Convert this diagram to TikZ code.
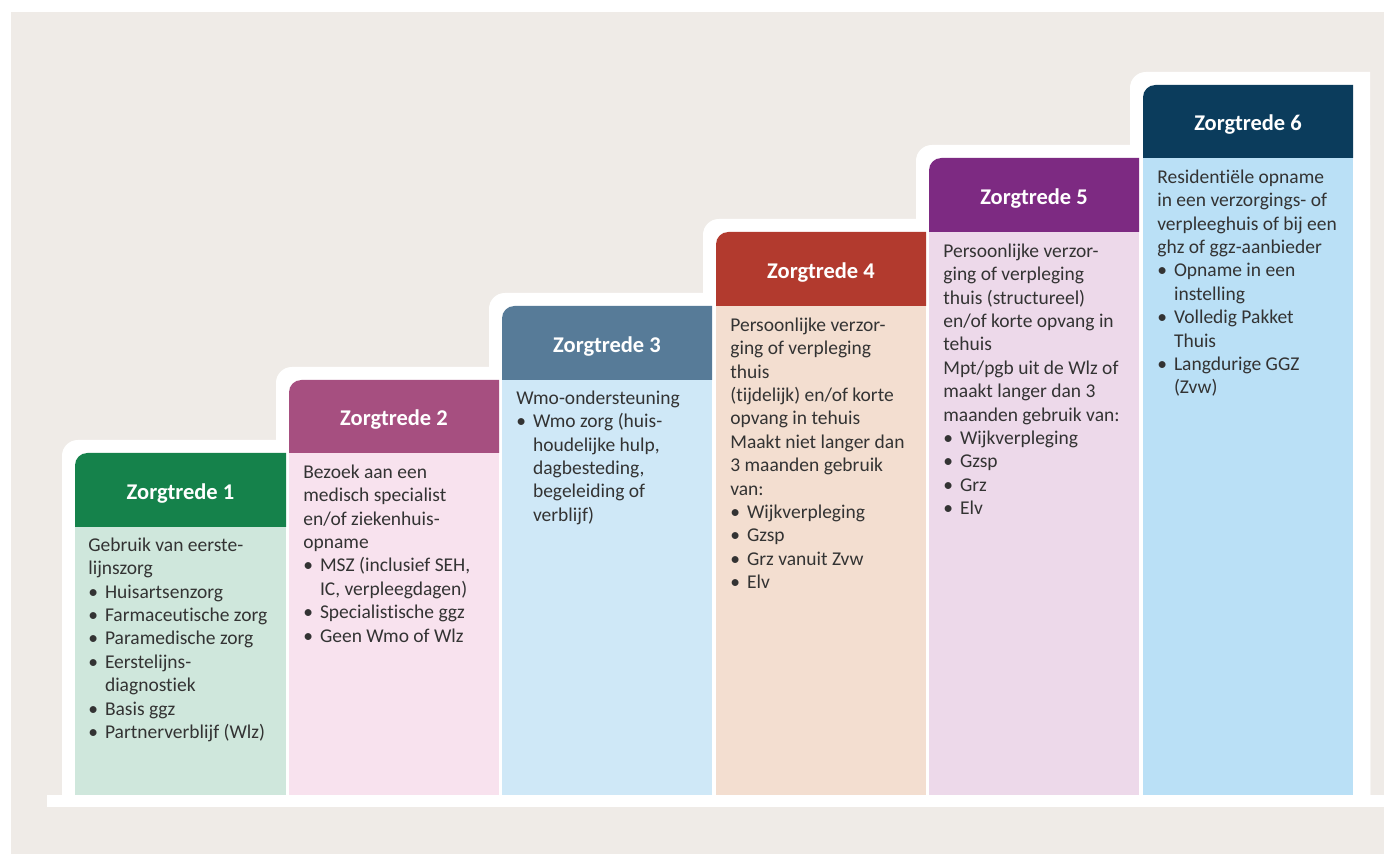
\documentclass[tikz,border=0pt]{standalone}
\usepackage{fontspec}
\setmainfont{Carlito}[Ligatures=NoCommon]
\usepackage{xcolor}
\usepackage{tikz}
\usetikzlibrary{positioning}

\definecolor{sfondo}{HTML}{EFEBE7}
\definecolor{verde}{HTML}{15824B}
\definecolor{verdechiaro}{HTML}{CFE7DC}
\definecolor{rosa}{HTML}{A64F80}
\definecolor{rosachiaro}{HTML}{F8E2EE}
\definecolor{grigioblu}{HTML}{577B98}
\definecolor{azzurrochiaro}{HTML}{CFE8F7}
\definecolor{rosso}{HTML}{B23A2E}
\definecolor{pesca}{HTML}{F3DED0}
\definecolor{viola}{HTML}{7D2A82}
\definecolor{lilla}{HTML}{EDD9EA}
\definecolor{blunotte}{HTML}{0B3C5C}
\definecolor{celeste}{HTML}{BAE0F6}
\definecolor{testogrigio}{HTML}{333333}

\newcommand{\punto}{\makebox[9.5pt][l]{\textbullet}}
\newcommand{\rientro}{\hspace*{9.5pt}}

\begin{document}
\begin{tikzpicture}[x=0.02cm,y=-0.02cm]

% Stili per titoli e testi
\tikzset{
  titolo/.style={anchor=base, inner sep=0pt, text=white, font=\bfseries\fontsize{12.8}{14}\selectfont},
  testo/.style={anchor=north west, inner sep=0pt, align=left, text=testogrigio,
    font=\fontsize{11.1}{13.3}\selectfont, execute at begin node=\strut}
}

\useasboundingbox (0,0) rectangle (1384,854);
\fill[white] (0,0) rectangle (1384,854);
\fill[sfondo] (11,12) rectangle (1384,854);

% --- Gradini bianchi sullo sfondo ---
\fill[white] (62,807) [rounded corners=9pt] -- (62,440) [sharp corners] -- (1370,440) -- (1370,807) -- cycle;
\fill[white] (276,807) [rounded corners=9pt] -- (276,367) [sharp corners] -- (1370,367) -- (1370,807) -- cycle;
\fill[white] (489,807) [rounded corners=9pt] -- (489,293) [sharp corners] -- (1370,293) -- (1370,807) -- cycle;
\fill[white] (703,807) [rounded corners=9pt] -- (703,219) [sharp corners] -- (1370,219) -- (1370,807) -- cycle;
\fill[white] (916,807) [rounded corners=9pt] -- (916,145) [sharp corners] -- (1370,145) -- (1370,807) -- cycle;
\fill[white] (1130,807) [rounded corners=9pt] -- (1130,72) [sharp corners] -- (1370,72) -- (1370,807) -- cycle;
\fill[white] (47,795) rectangle (1384,807);

% --- Zorgtrede 1 ---
\fill[verde] (75,527) [rounded corners=7pt] -- (75,453) [sharp corners] -- (286,453) -- (286,527) -- cycle;
\fill[verdechiaro] (75,527) rectangle (286,795);
\node[titolo] (z1) at (180.5,500) {Zorgtrede 1};
\node[testo] (t1) at (88,537.6) {Gebruik van eerste-\\lijnszorg\\
  \punto Huisartsenzorg\\\punto Farmaceutische zorg\\\punto Paramedische zorg\\
  \punto Eerstelijns-\\\rientro diagnostiek\\\punto Basis ggz\\\punto Partnerverblijf (Wlz)};

% --- Zorgtrede 2 ---
\fill[rosa] (289,453) [rounded corners=7pt] -- (289,380) [sharp corners] -- (499,380) -- (499,453) -- cycle;
\fill[rosachiaro] (289,453) rectangle (499,795);
\node[titolo] (z2) at (394,426) {Zorgtrede 2};
\node[testo] (t2) at (303,464.6) {Bezoek aan een\\medisch specialist\\en/of ziekenhuis-\\opname\\
  \punto MSZ (inclusief SEH,\\\rientro IC, verpleegdagen)\\\punto Specialistische ggz\\\punto Geen Wmo of Wlz};

% --- Zorgtrede 3 ---
\fill[grigioblu] (502,380) [rounded corners=7pt] -- (502,306) [sharp corners] -- (712,306) -- (712,380) -- cycle;
\fill[azzurrochiaro] (502,380) rectangle (712,795);
\node[titolo] (z3) at (607,353) {Zorgtrede 3};
\node[testo] (t3) at (516,390.6) {Wmo-ondersteuning\\\punto Wmo zorg (huis-\\\rientro houdelijke hulp,\\
  \rientro dagbesteding,\\\rientro begeleiding of\\\rientro verblijf)};

% --- Zorgtrede 4 ---
\fill[rosso] (716,306) [rounded corners=7pt] -- (716,232) [sharp corners] -- (926,232) -- (926,306) -- cycle;
\fill[pesca] (716,306) rectangle (926,795);
\node[titolo] (z4) at (821,279) {Zorgtrede 4};
\node[testo] (t4) at (730,317.6) {Persoonlijke verzor-\\ging of verpleging\\thuis\\(tijdelijk) en/of korte\\
  opvang in tehuis\\Maakt niet langer dan\\3 maanden gebruik\\van:\\
  \punto Wijkverpleging\\\punto Gzsp\\\punto Grz vanuit Zvw\\\punto Elv};

% --- Zorgtrede 5 ---
\fill[viola] (929,232) [rounded corners=7pt] -- (929,158) [sharp corners] -- (1139,158) -- (1139,232) -- cycle;
\fill[lilla] (929,232) rectangle (1139,795);
\node[titolo] (z5) at (1034,205) {Zorgtrede 5};
\node[testo] (t5) at (943,243.6) {Persoonlijke verzor-\\ging of verpleging\\thuis (structureel)\\
  en/of korte opvang in\\tehuis\\Mpt/pgb uit de Wlz of\\maakt langer dan 3\\maanden gebruik van:\\
  \punto Wijkverpleging\\\punto Gzsp\\\punto Grz\\\punto Elv};

% --- Zorgtrede 6 ---
\fill[blunotte] (1143,158) [rounded corners=7pt] -- (1143,85) [sharp corners] -- (1353,85) -- (1353,158) -- cycle;
\fill[celeste] (1143,158) rectangle (1353,795);
\node[titolo] (z6) at (1248,131) {Zorgtrede 6};
\node[testo] (t6) at (1157,169.6) {Residentiële opname\\in een verzorgings- of\\verpleeghuis of bij een\\
  ghz of ggz-aanbieder\\\punto Opname in een\\\rientro instelling\\\punto Volledig Pakket\\
  \rientro Thuis\\\punto Langdurige GGZ\\\rientro (Zvw)};

\end{tikzpicture}
\end{document}
